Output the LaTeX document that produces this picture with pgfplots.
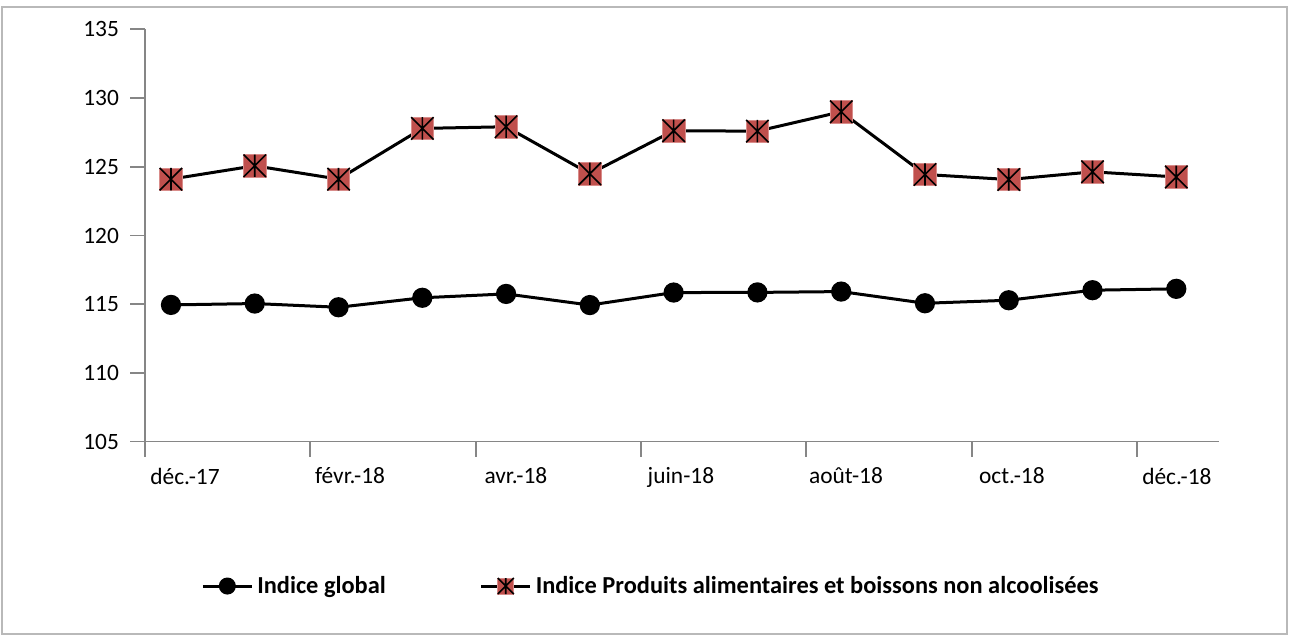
\documentclass[border=0pt]{standalone}
\usepackage{pgfplots}
\pgfplotsset{compat=1.18}
\usepackage{fontspec}
\setmainfont{Carlito}
\definecolor{mred}{HTML}{C0504D}
\definecolor{mredl}{HTML}{D98C8A}
\definecolor{axgray}{HTML}{868686}
\pgfdeclareplotmark{xlstar}{%
  \pgfsetlinewidth{0.3pt}%
  \pgfsetfillcolor{mred}\pgfsetstrokecolor{mredl}%
  \pgfpathrectangle{\pgfpoint{-\pgfplotmarksize}{-\pgfplotmarksize}}{\pgfpoint{2\pgfplotmarksize}{2\pgfplotmarksize}}%
  \pgfusepath{fill,stroke}%
  \pgfsetstrokecolor{black}\pgfsetlinewidth{0.8pt}%
  \pgfpathmoveto{\pgfpoint{-\pgfplotmarksize}{-\pgfplotmarksize}}\pgfpathlineto{\pgfpoint{\pgfplotmarksize}{\pgfplotmarksize}}%
  \pgfpathmoveto{\pgfpoint{-\pgfplotmarksize}{\pgfplotmarksize}}\pgfpathlineto{\pgfpoint{\pgfplotmarksize}{-\pgfplotmarksize}}%
  \pgfpathmoveto{\pgfpoint{0pt}{-\pgfplotmarksize}}\pgfpathlineto{\pgfpoint{0pt}{\pgfplotmarksize}}%
  \pgfusepath{stroke}%
}
\begin{document}
\begin{tikzpicture}
\path[use as bounding box] (0,0) rectangle (646.5pt,318pt);
\draw[gray!55, line width=0.6pt] (1pt,1pt) rectangle (643.5pt,314.5pt);
\begin{axis}[
  at={(72.5pt,97.15pt)}, anchor=south west,
  scale only axis, width=537pt, height=206.2pt,
  xmin=-0.31, xmax=12.51, ymin=105, ymax=135,
  axis x line=bottom, axis y line=left,
  axis line style={axgray, line width=0.8pt, -},
  ytick={105,110,...,135},
  xtick={-0.31,1.66,3.64,5.61,7.58,9.56,11.53},
  xticklabels={déc.-17,févr.-18,avr.-18,juin-18,août-18,oct.-18,déc.-18},
  tick style={axgray, line width=0.8pt},
  tick align=outside, major tick length=7.5pt,
  /pgf/number format/assume math mode=true,
  ticklabel style={font=\fontsize{11.7}{13}\selectfont, text=black},
  yticklabel style={xshift=-2pt},
  xticklabel style={yshift=-2pt, xshift=20pt},
  legend columns=2,
  legend style={at={(0.472,-0.35)}, anchor=center, draw=none, fill=none,
    font=\bfseries\fontsize{12.2}{14}\selectfont,
    /tikz/every even column/.append style={column sep=45pt}},
  legend image code/.code={%
    \draw[mark repeat=2,mark phase=2,#1] plot coordinates {(0cm,0cm) (0.43cm,0cm) (0.86cm,0cm)};},
]
\addplot[black, line width=1.5pt, mark=*, mark size=4.3pt, mark options={fill=black, draw=black},
  legend image post style={mark size=3.5pt}]
  coordinates {(0,114.95) (1,115.05) (2,114.78) (3,115.47) (4,115.75) (5,114.94) (6,115.85)
  (7,115.86) (8,115.92) (9,115.07) (10,115.29) (11,116.02) (12,116.12)};
\addlegendentry{Indice global}
\addplot[black, line width=1.5pt, mark=xlstar, mark size=5.6pt,
  legend image post style={mark size=4pt}]
  coordinates {(0,124.10) (1,125.07) (2,124.10) (3,127.79) (4,127.91) (5,124.49) (6,127.62)
  (7,127.59) (8,129.00) (9,124.44) (10,124.07) (11,124.63) (12,124.26)};
\addlegendentry{Indice Produits alimentaires et boissons non alcoolisées}
\end{axis}
\end{tikzpicture}
\end{document}
